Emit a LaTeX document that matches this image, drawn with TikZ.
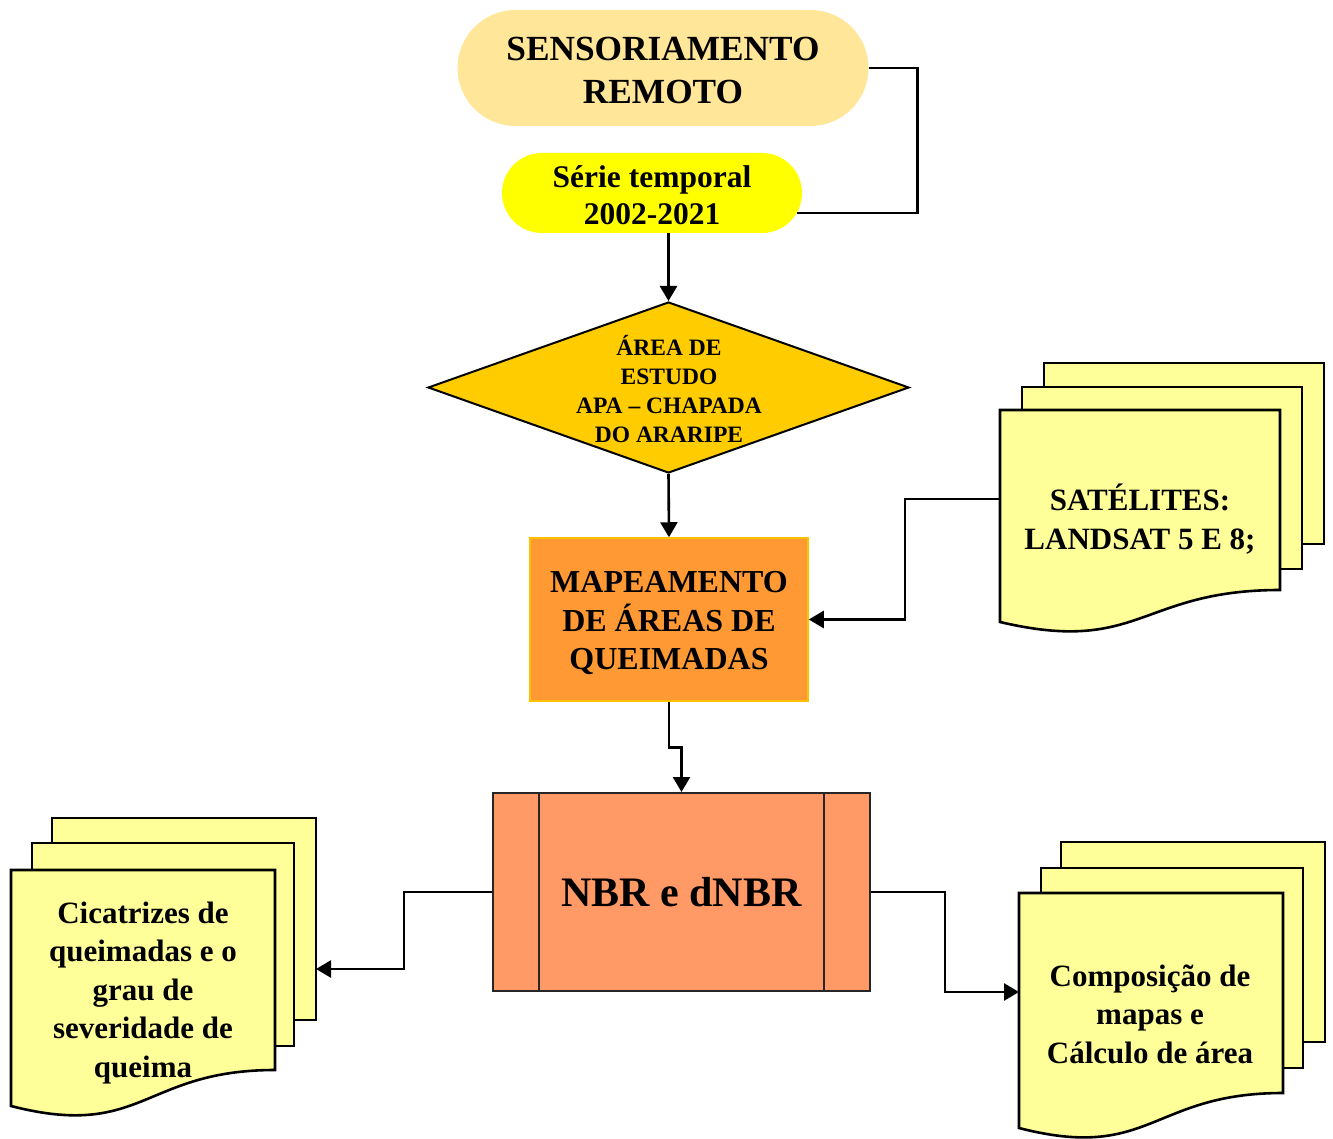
\documentclass[tikz,border=0pt]{standalone}
\usepackage{fontspec}
\setmainfont{Liberation Serif}
\usetikzlibrary{arrows.meta,shapes.geometric}
\definecolor{sensfill}{HTML}{FFE699}
\definecolor{seriefill}{HTML}{FFFF00}
\definecolor{areafill}{HTML}{FFCC00}
\definecolor{mapfill}{HTML}{FF9933}
\definecolor{mapline}{HTML}{FFC000}
\definecolor{nbrfill}{HTML}{FF9966}
\definecolor{pagefill}{HTML}{FFFF99}
\begin{document}
\begin{tikzpicture}[x=1pt,y=-1pt,
  conn/.style={line width=2.6pt, draw=black},
  arr/.style={conn, -{Triangle[length=15pt,width=17pt]}},
  pagebox/.style={fill=pagefill, draw=black, line width=2.6pt},
  txt/.style={font=\bfseries\fontsize{31}{38.5}\selectfont, align=center, inner sep=0pt},
]
\useasboundingbox (0,0) rectangle (1333,1139);

% top terminators
\node[fill=sensfill, rounded corners=58pt, minimum width=411pt, minimum height=116pt, inner sep=0pt, align=center, font=\bfseries\fontsize{35.3}{43}\selectfont] (sens) at (663,68) {};
\node[align=center, inner sep=0pt, font=\bfseries\fontsize{35.3}{43}\selectfont] (senstxt) at (663,70) {SENSORIAMENTO\\REMOTO};
\node[fill=seriefill, rounded corners=40pt, minimum width=300pt, minimum height=80pt, inner sep=0pt] (serie) at (652,193) {};
\node[align=center, inner sep=0pt, font=\bfseries\fontsize{31.5}{37}\selectfont] (serietxt) at (652,195) {Série temporal\\2002-2021};
\coordinate (serieR) at (797,213);

% decision
\node[diamond, draw=black, line width=2pt, fill=areafill, minimum width=481pt, minimum height=171pt, inner sep=0pt] (area) at (668.5,387.5) {};
\node[txt, font=\bfseries\fontsize{23.5}{29}\selectfont] (areatxt) at (669,389) {ÁREA DE\\ESTUDO\\APA – CHAPADA\\DO ARARIPE};

% process
\node[fill=mapfill, draw=mapline, line width=1.5pt, minimum width=278pt, minimum height=163pt, inner sep=0pt] (map) at (669,619.5) {};
\node[txt, font=\bfseries\fontsize{32}{38.5}\selectfont] (maptxt) at (669,623) {MAPEAMENTO\\DE ÁREAS DE\\QUEIMADAS};

% predefined process
\node[fill=nbrfill, draw=black!85, line width=2pt, minimum width=377pt, minimum height=198pt, inner sep=0pt, font=\bfseries\fontsize{42}{50}\selectfont] (nbr) at (681.5,892) {NBR e dNBR};
\draw[black!85, line width=2pt] ([xshift=47pt]nbr.north west) -- ([xshift=47pt]nbr.south west);
\draw[black!85, line width=2pt] ([xshift=-47pt]nbr.north east) -- ([xshift=-47pt]nbr.south east);

% satellites multidocument
\path[pagebox] (1044,363) rectangle (1324,544);
\path[pagebox] (1022,387) rectangle (1302,569);
\path[pagebox] (1000,410) -- (1280,410) -- (1280,590) .. controls (1140,590) and (1140,655) .. (1000,622) -- cycle;
\node[txt] (sat) at (1140,519) {SATÉLITES:\\LANDSAT 5 E 8;};
\coordinate (satIn) at (1000,499);

% cicatrizes multidocument
\path[pagebox] (52,818) rectangle (316,1020);
\path[pagebox] (32,843) rectangle (294,1046);
\path[pagebox] (11,870) -- (275,870) -- (275,1070) .. controls (143,1070) and (143,1140) .. (11,1106) -- cycle;
\node[txt] (cic) at (143,993) {Cicatrizes de\\queimadas e o\\grau de\\severidade de\\queima};
\coordinate (cicIn) at (316,969);

% composicao multidocument
\path[pagebox] (1061,842) rectangle (1325,1042);
\path[pagebox] (1041,868) rectangle (1303,1068);
\path[pagebox] (1019,893) -- (1283,893) -- (1283,1093) .. controls (1151,1093) and (1151,1162) .. (1019,1128) -- cycle;
\node[txt] (comp) at (1150,1014) {Composição de\\mapas e\\Cálculo de área};
\coordinate (compIn) at (1019,992);

% connectors
\draw[conn] (sens.east) -- ++(49,0) |- (serieR);
\draw[arr] (area.north |- serie.south) -- (area.north);
\draw[arr] (area.south) -- (map.north);
\draw[arr] (map.south) -- ++(0,46) -| (nbr.north);
\draw[arr] (satIn) -- ++(-95,0) |- (map.east);
\draw[arr] (nbr.west) -- ++(-88,0) |- (cicIn);
\draw[arr] (nbr.east) -- ++(74,0) |- (compIn);
\end{tikzpicture}
\end{document}
